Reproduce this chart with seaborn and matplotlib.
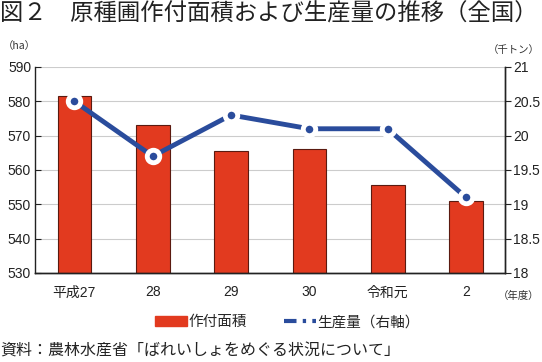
import matplotlib
matplotlib.use("Agg")
import matplotlib.pyplot as plt
import numpy as np
import pandas as pd
import seaborn as sns
from matplotlib.lines import Line2D
from matplotlib.patches import Patch

years = ["平成27", "28", "29", "30", "令和元", "2"]
area_ha = [581.5, 573, 565.5, 566, 555.5, 551]
prod_kt = [20.5, 19.7, 20.3, 20.1, 20.1, 19.1]

BAR = "#e23a1f"
LINE = "#2a4c9c"

sns.set_style("white")
plt.rcParams["font.family"] = ["Liberation Sans", "Noto Sans CJK JP", "DejaVu Sans"]
JP = ["Noto Sans CJK JP", "DejaVu Sans"]

df = pd.DataFrame({"year": years, "area": area_ha, "prod": prod_kt})

fig = plt.figure(figsize=(5.42, 3.62), dpi=100)
ax = fig.add_axes([0.065, 0.246, 0.867, 0.569])

sns.barplot(data=df, x="year", y="area", color=BAR, width=0.43,
            edgecolor="#5a1a10", linewidth=0.8, saturation=1, ax=ax, zorder=2)
ax.set_ylim(530, 590)
ax.set_yticks(np.arange(530, 591, 10))
ax.set_xlim(-0.5, 5.5)
ax.grid(axis="y", color="#cccccc", linewidth=0.8, zorder=0)
ax.set_axisbelow(True)
ax.set_xlabel("")
ax.set_ylabel("")

ax2 = ax.twinx()
sns.lineplot(x=np.arange(len(years)), y=prod_kt, ax=ax2, color=LINE,
             linewidth=3.5, marker="o", markersize=9,
             markerfacecolor=LINE, markeredgecolor="white", markeredgewidth=3.5,
             zorder=5)
ax2.set_ylim(18, 21)
ax2.set_yticks(np.arange(18, 21.01, 0.5))
ax2.set_yticklabels(["18", "18.5", "19", "19.5", "20", "20.5", "21"])
ax2.set_xlim(-0.5, 5.5)

for a in (ax, ax2):
    a.spines["top"].set_visible(False)
    for s in a.spines.values():
        s.set_color("#222222")
        s.set_linewidth(1.0)
    a.tick_params(labelsize=10, colors="#222222", length=4, width=0.8)
ax.tick_params(axis="y", direction="in", pad=3)
ax2.tick_params(axis="y", direction="out", pad=2)
ax.tick_params(axis="x", length=0, pad=9)
ax2.spines["left"].set_visible(False)

fig.text(0.0, 0.96, "図２　原種圃作付面積および生産量の推移（全国）",
         fontsize=16.8, va="center", ha="left", color="#222222", family=JP)
fig.text(0.005, 0.872, "（ha）", fontsize=7.5, color="#333333", va="center", family=JP)
fig.text(0.995, 0.862, "（千トン）", fontsize=7.5, color="#333333", va="center", ha="right", family=JP)
fig.text(0.995, 0.183, "（年度）", fontsize=7.5, color="#333333", va="center", ha="right", family=JP)
fig.text(0.0, 0.03, "資料：農林水産省「ばれいしょをめぐる状況について」",
         fontsize=11.5, color="#222222", va="center", ha="left", family=JP)

handles = [Patch(facecolor=BAR, edgecolor=BAR),
           Line2D([0], [0], color=LINE, linewidth=3, linestyle=(0, (3, 1.5, 0.8, 1.5)))]
fig.legend(handles, ["作付面積", "生産量（右軸）"], loc="center",
           bbox_to_anchor=(0.53, 0.11), ncol=2, frameon=False,
           prop={"family": JP, "size": 10.5},
           handlelength=2.2, handleheight=0.6, columnspacing=2.5, handletextpad=0.1)

fig.savefig("out.png", dpi=100)
